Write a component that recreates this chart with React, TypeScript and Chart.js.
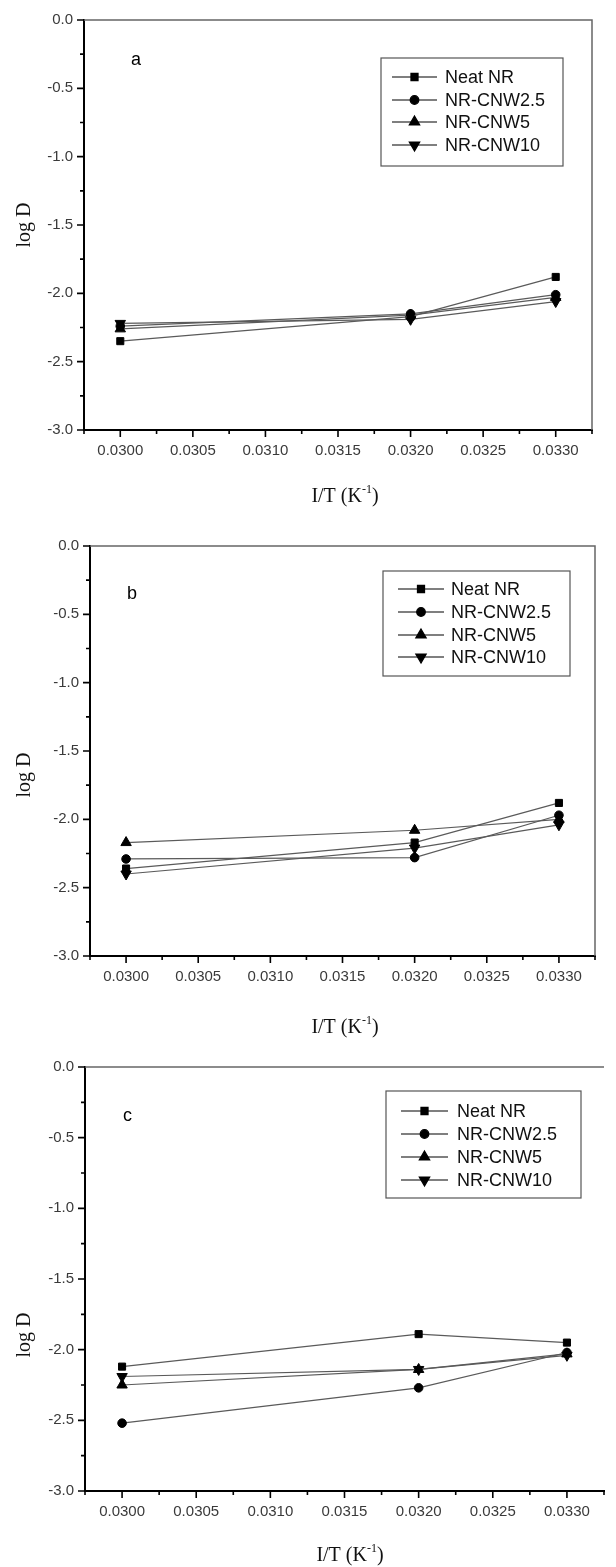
import React, { useEffect, useRef } from 'react';
import { Chart, registerables } from 'chart.js';
import { drawPoint } from 'chart.js/helpers';

Chart.register(...registerables);

// ---------- data ----------
const X_VALUES = [0.03, 0.032, 0.033];
const SERIES_LABELS = ['Neat NR', 'NR-CNW2.5', 'NR-CNW5', 'NR-CNW10'];

const A_NEAT_NR = [-2.35, -2.17, -1.88];
const A_CNW2_5 = [-2.24, -2.15, -2.01];
const A_CNW5 = [-2.26, -2.16, -2.03];
const A_CNW10 = [-2.22, -2.19, -2.06];

const B_NEAT_NR = [-2.36, -2.17, -1.88];
const B_CNW2_5 = [-2.29, -2.28, -1.97];
const B_CNW5 = [-2.17, -2.08, -2.0];
const B_CNW10 = [-2.4, -2.21, -2.04];

const C_NEAT_NR = [-2.12, -1.89, -1.95];
const C_CNW2_5 = [-2.52, -2.27, -2.02];
const C_CNW5 = [-2.25, -2.14, -2.03];
const C_CNW10 = [-2.19, -2.14, -2.04];

const X_MIN = 0.02975;
const X_MAX = 0.03325;
const Y_MIN = -3.0;
const Y_MAX = 0.0;
const X_TICKS = [0.02975, 0.03, 0.03025, 0.0305, 0.03075, 0.031, 0.03125, 0.0315, 0.03175, 0.032, 0.03225, 0.0325, 0.03275, 0.033, 0.03325];
const Y_TICKS = [0, -0.25, -0.5, -0.75, -1, -1.25, -1.5, -1.75, -2, -2.25, -2.5, -2.75, -3];
const PANEL_LETTERS = ['a', 'b', 'c'];
const X_TITLE = 'I/T (K';
const X_TITLE_SUP = '-1';
const X_TITLE_END = ')';
const Y_TITLE = 'log D';

// ---------- styles ----------
const SANS = '"Liberation Sans", Arial, sans-serif';
const SERIF = '"Liberation Serif", "Times New Roman", serif';
const LINE_COLOR = '#5a5a5a';
const MARKERS = [
  { style: 'rect', rotation: 0, radius: 5 },
  { style: 'circle', rotation: 0, radius: 4.3 },
  { style: 'triangle', rotation: 0, radius: 6 },
  { style: 'triangle', rotation: 180, radius: 6 },
];

const PANELS = [
  {
    top: 0, height: 520,
    series: [A_NEAT_NR, A_CNW2_5, A_CNW5, A_CNW10],
    area: { left: 84, right: 592, top: 19, bottom: 430 },
    rightBorder: true,
    legend: { left: 381, right: 563, top: 58, bottom: 166, rows: [77, 100, 122, 145], lineX1: 392, lineX2: 437, textX: 445 },
    letter: { x: 136, y: 60 },
    xTitle: { x: 345, y: 497 },
    yTitle: { x: 25, y: 225 },
  },
  {
    top: 520, height: 520,
    series: [B_NEAT_NR, B_CNW2_5, B_CNW5, B_CNW10],
    area: { left: 90, right: 595, top: 546, bottom: 956 },
    rightBorder: true,
    legend: { left: 383, right: 570, top: 571, bottom: 676, rows: [589, 612, 635, 657], lineX1: 398, lineX2: 444, textX: 451 },
    letter: { x: 132, y: 594 },
    xTitle: { x: 345, y: 1028 },
    yTitle: { x: 25, y: 775 },
  },
  {
    top: 1040, height: 527,
    series: [C_NEAT_NR, C_CNW2_5, C_CNW5, C_CNW10],
    area: { left: 85, right: 616, top: 1067, bottom: 1491 },
    rightBorder: false,
    legend: { left: 386, right: 581, top: 1091, bottom: 1198, rows: [1111, 1134, 1157, 1180], lineX1: 401, lineX2: 448, textX: 457 },
    letter: { x: 128, y: 1116 },
    xTitle: { x: 350, y: 1556 },
    yTitle: { x: 25, y: 1335 },
  },
];

const isMajorX = (v: number) => Math.abs(v * 2000 - Math.round(v * 2000)) < 1e-6;
const isMajorY = (v: number) => Math.abs(v * 2 - Math.round(v * 2)) < 1e-6;

function PanelChart({ panel, index }: { panel: any; index: number }) {
  const ref = useRef<HTMLCanvasElement | null>(null);

  useEffect(() => {
    const canvas = ref.current;
    if (!canvas) return;
    const off = panel.top;
    const a = panel.area;

    const decor = {
      id: 'decor',
      afterDraw(chart: any) {
        const ctx = chart.ctx;
        const { left, right, top, bottom } = chart.chartArea;
        const xs = chart.scales.x;
        const ys = chart.scales.y;
        ctx.save();
        // top / right frame
        ctx.strokeStyle = '#666';
        ctx.lineWidth = 1.5;
        ctx.beginPath();
        ctx.moveTo(left, top);
        ctx.lineTo(right, top);
        if (panel.rightBorder) ctx.lineTo(right, bottom);
        ctx.stroke();
        // tick marks (outward)
        ctx.strokeStyle = '#000';
        ctx.lineWidth = 1.6;
        ctx.beginPath();
        X_TICKS.forEach((v) => {
          const px = xs.getPixelForValue(v);
          const len = isMajorX(v) ? 7 : 4;
          ctx.moveTo(px, bottom);
          ctx.lineTo(px, bottom + len);
        });
        Y_TICKS.forEach((v) => {
          const py = ys.getPixelForValue(v);
          const len = isMajorY(v) ? 7 : 4;
          ctx.moveTo(left, py);
          ctx.lineTo(left - len, py);
        });
        ctx.stroke();

        // legend
        const lg = panel.legend;
        ctx.strokeStyle = '#555';
        ctx.lineWidth = 1.2;
        ctx.strokeRect(lg.left, lg.top - off, lg.right - lg.left, lg.bottom - lg.top);
        ctx.font = `18px ${SANS}`;
        ctx.textBaseline = 'middle';
        ctx.textAlign = 'left';
        SERIES_LABELS.forEach((label, i) => {
          const y = lg.rows[i] - off;
          ctx.strokeStyle = '#000';
          ctx.lineWidth = 1.2;
          ctx.beginPath();
          ctx.moveTo(lg.lineX1, y);
          ctx.lineTo(lg.lineX2, y);
          ctx.stroke();
          ctx.fillStyle = '#000';
          drawPoint(ctx, { pointStyle: MARKERS[i].style, rotation: MARKERS[i].rotation, radius: MARKERS[i].radius, borderWidth: 1 }, (lg.lineX1 + lg.lineX2) / 2, y);
          ctx.fillStyle = '#111';
          ctx.fillText(label, lg.textX, y + 1);
        });

        // panel letter
        ctx.fillStyle = '#000';
        ctx.font = `18px ${SANS}`;
        ctx.textAlign = 'left';
        ctx.textBaseline = 'middle';
        ctx.fillText(PANEL_LETTERS[index], panel.letter.x - 5, panel.letter.y - off);

        // x title with superscript
        ctx.font = `20px ${SERIF}`;
        const w1 = ctx.measureText(X_TITLE).width;
        ctx.font = `12px ${SERIF}`;
        const w2 = ctx.measureText(X_TITLE_SUP).width;
        ctx.font = `20px ${SERIF}`;
        const w3 = ctx.measureText(X_TITLE_END).width;
        const total = w1 + w2 + w3;
        let tx = panel.xTitle.x - total / 2;
        const ty = panel.xTitle.y - off;
        ctx.textBaseline = 'middle';
        ctx.fillStyle = '#111';
        ctx.fillText(X_TITLE, tx, ty);
        tx += w1;
        ctx.font = `12px ${SERIF}`;
        ctx.fillText(X_TITLE_SUP, tx, ty - 7);
        tx += w2;
        ctx.font = `20px ${SERIF}`;
        ctx.fillText(X_TITLE_END, tx, ty);

        // y title
        ctx.save();
        ctx.translate(panel.yTitle.x, panel.yTitle.y - off);
        ctx.rotate(-Math.PI / 2);
        ctx.textAlign = 'center';
        ctx.textBaseline = 'middle';
        ctx.font = `20px ${SERIF}`;
        ctx.fillText(Y_TITLE, 0, 0);
        ctx.restore();

        ctx.restore();
      },
    };

    const chart = new Chart(canvas, {
      type: 'scatter',
      data: {
        datasets: panel.series.map((vals: number[], i: number) => ({
          label: SERIES_LABELS[i],
          data: X_VALUES.map((x, j) => ({ x, y: vals[j] })),
          showLine: true,
          borderColor: LINE_COLOR,
          borderWidth: 1.2,
          pointStyle: MARKERS[i].style,
          pointRotation: MARKERS[i].rotation,
          pointRadius: MARKERS[i].radius,
          pointHoverRadius: MARKERS[i].radius,
          pointBackgroundColor: '#000',
          pointBorderColor: '#000',
          pointBorderWidth: 1,
        })),
      },
      options: {
        animation: false,
        responsive: false,
        devicePixelRatio: 1,
        events: [],
        layout: {
          padding: { left: 0, top: a.top - off, right: 616 - a.right, bottom: 0 },
        },
        plugins: {
          legend: { display: false },
          tooltip: { enabled: false },
        },
        scales: {
          x: {
            type: 'linear',
            min: X_MIN,
            max: X_MAX,
            afterFit: (s: any) => { s.height = panel.height - (a.bottom - off); },
            afterBuildTicks: (s: any) => { s.ticks = X_TICKS.map((v) => ({ value: v })); },
            ticks: {
              autoSkip: false,
              maxRotation: 0,
              minRotation: 0,
              padding: 12,
              color: '#3a3a3a',
              font: { family: SANS, size: 15 },
              callback: (v: any) => (isMajorX(Number(v)) ? Number(v).toFixed(4) : ''),
            },
            grid: { display: true, drawOnChartArea: false, drawTicks: false },
            border: { display: true, color: '#000', width: 2 },
          },
          y: {
            type: 'linear',
            min: Y_MIN,
            max: Y_MAX,
            afterFit: (s: any) => { s.width = a.left; },
            afterBuildTicks: (s: any) => { s.ticks = Y_TICKS.map((v) => ({ value: v })); },
            ticks: {
              autoSkip: false,
              padding: 11,
              color: '#3a3a3a',
              font: { family: SANS, size: 15 },
              callback: (v: any) => (isMajorY(Number(v)) ? Math.abs(Number(v)) < 1e-9 ? '0.0' : Number(v).toFixed(1) : ''),
            },
            grid: { display: true, drawOnChartArea: false, drawTicks: false },
            border: { display: true, color: '#000', width: 2 },
          },
        },
      },
      plugins: [decor],
    } as any);

    return () => chart.destroy();
  }, [panel, index]);

  return (
    <canvas
      ref={ref}
      width={616}
      height={panel.height}
      style={{ position: 'absolute', left: 0, top: panel.top, width: 616, height: panel.height, display: 'block' }}
    />
  );
}

export default function App() {
  return (
    <div style={{ position: 'absolute', left: 0, top: 0, width: 616, height: 1567, overflow: 'hidden', background: '#fff' }}>
      {PANELS.map((p, i) => (
        <PanelChart key={i} panel={p} index={i} />
      ))}
    </div>
  );
}
